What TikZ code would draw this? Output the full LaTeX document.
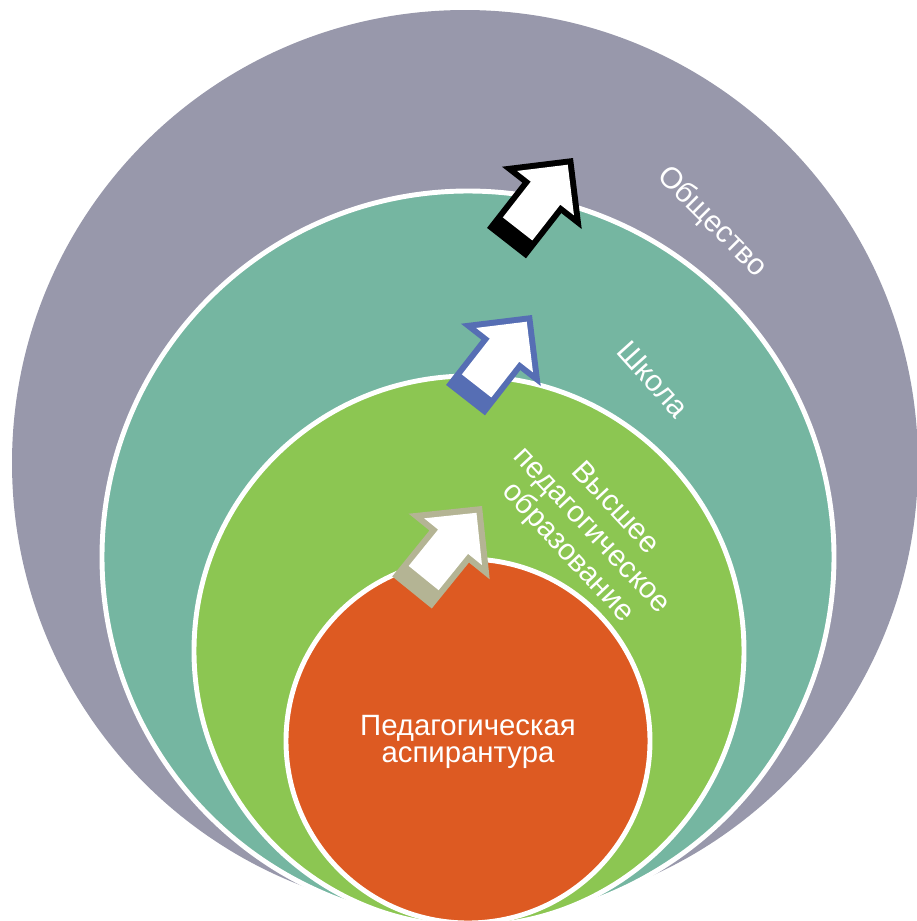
\documentclass[tikz,border=0pt]{standalone}
\usepackage{fontspec}
\setmainfont{Liberation Sans}
\definecolor{cgrey}{RGB}{152,152,171}
\definecolor{cteal}{RGB}{117,182,161}
\definecolor{cgreen}{RGB}{140,198,82}
\definecolor{corange}{RGB}{221,90,34}
\definecolor{cblue}{RGB}{86,110,180}
\definecolor{cbeige}{RGB}{180,180,148}
\newcommand\blockarrow[4]{%
\begin{scope}[shift={#1}, rotate=#2, scale=#4]
\fill[#3] (0,0) -- (-50.6,50.6) -- (-50.6,24.7) -- (-108,24.7) -- (-108,-24.7) -- (-50.6,-24.7) -- (-50.6,-50.6) -- cycle;
\fill[white] (-8.5,0) -- (-44.6,36.1) -- (-44.6,18.7) -- (-90,18.7) -- (-90,-18.7) -- (-44.6,-18.7) -- (-44.6,-36.1) -- cycle;
\end{scope}}
\tikzset{
  ring/.style={draw=white, line width=2.8pt},
  lbl/.style={text=white, font=\fontsize{17}{18.5}\selectfont, align=center, inner sep=0pt}
}
\begin{document}
\begin{tikzpicture}[x=0.02cm, y=-0.02cm]
\useasboundingbox (0,0) rectangle (917,921);
\fill[cgrey] (465,463) circle (453);
\filldraw[ring, fill=cteal] (468,557) circle (366);
\filldraw[ring, fill=cgreen] (469,651) circle (275);
\filldraw[ring, fill=corange] (468,741) circle (182);
\blockarrow{(573,158)}{52}{black}{1}
\blockarrow{(532,315)}{52}{cblue}{1}
\blockarrow{(482,506)}{51}{cbeige}{1.03}
\node[lbl] (obsh) at (712,222) [rotate=-45] {Общество};
\node[lbl] (shk) at (653,379) [rotate=-48] {Школа};
\node[lbl] (vyssh) at (591,531) [rotate=-47] {Высшее\\педагогическое\\образование};
\node[lbl, font=\fontsize{16.7}{15.8}\selectfont] (asp) at (468,742) {Педагогическая\\аспирантура};
\end{tikzpicture}
\end{document}
